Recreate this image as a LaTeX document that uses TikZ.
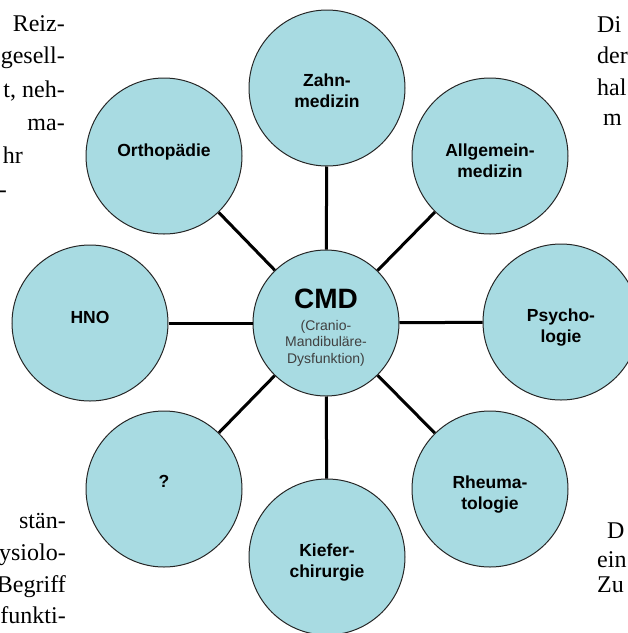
\documentclass[tikz,border=0pt]{standalone}
\usepackage{fontspec}
\setmainfont{Liberation Serif}
\newfontfamily\lsans{Liberation Sans}
\definecolor{cfill}{RGB}{168,219,226}
\newcommand\lbldn{\rule{0pt}{23pt}}
\newcommand\lblup[1]{\rule[-#1]{0pt}{#1}}
\begin{document}
\begin{tikzpicture}[x=1pt,y=-1pt,
  disc/.style={circle,draw=black!85,line width=1pt,fill=cfill,minimum size=156pt,inner sep=0pt,align=center,
    font=\lsans\bfseries\fontsize{17.5}{21}\selectfont},
  hub/.style={disc,minimum size=146pt,font=\lsans\mdseries\fontsize{14}{16.5}\selectfont,text=black!75},
  link/.style={line width=3pt,draw=black},
  bodyR/.style={font=\fontsize{24}{28}\selectfont,inner sep=0pt,anchor=base east},
  bodyL/.style={font=\fontsize{24}{28}\selectfont,inner sep=0pt,anchor=base west}]
\useasboundingbox (0,0) rectangle (628,633);
% surrounding text fragments
\node[bodyR] (t1) at (65,31) {Reiz-};
\node[bodyR] (t2) at (65,63) {gesell-};
\node[bodyR] (t3) at (65,97) {t, neh-};
\node[bodyR] (t4) at (65,130) {ma-};
\node[bodyR] (t5) at (23,163) {hr};
\node[bodyR] (t6) at (7,197) {-};
\node[bodyL] (r1) at (597,32) {Di};
\node[bodyL] (r2) at (597,63) {der};
\node[bodyL] (r3) at (597,95) {hal};
\node[bodyL] (r4) at (603,125) {m};
\node[bodyR] (b1) at (66,528) {stän-};
\node[bodyR] (b2) at (66,560) {ysiolo-};
\node[bodyR] (b3) at (66,592) {Begriff};
\node[bodyR] (b4) at (66,623) {funkti-};
\node[bodyL] (d1) at (607,538) {D};
\node[bodyL] (d2) at (597,567) {ein};
\node[bodyL] (d3) at (597,592) {Zu};
% circles
\node[hub] (cmd) at (326,323) {\rule{0pt}{28pt}{\fontsize{28}{28}\selectfont\bfseries\color{black}CMD}\\[5.5pt]
  (Cranio-\\Mandibuläre-\\Dysfunktion)};
\node[disc] (zahn) at (327,88) {\rule{0pt}{19pt}Zahn-\\medizin};
\node[disc] (allg) at (490,156) {\lbldn Allgemein-\\medizin};
\node[disc] (psy) at (561,322) {\lbldn Psycho-\\logie};
\node[disc] (rheu) at (490,489) {\lbldn Rheuma-\\tologie};
\node[disc] (kief) at (327,557) {\lbldn Kiefer-\\chirurgie};
\node[disc] (frage) at (164,489) {\lblup{16pt}?};
\node[disc] (hno) at (90,323) {\lblup{11pt}HNO};
\node[disc] (orth) at (164,156) {\lblup{11pt}Orthopädie};
% connectors
\foreach \n in {zahn,allg,psy,rheu,kief,frage,hno,orth}
  \draw[link] (cmd) -- (\n);
\end{tikzpicture}
\end{document}
